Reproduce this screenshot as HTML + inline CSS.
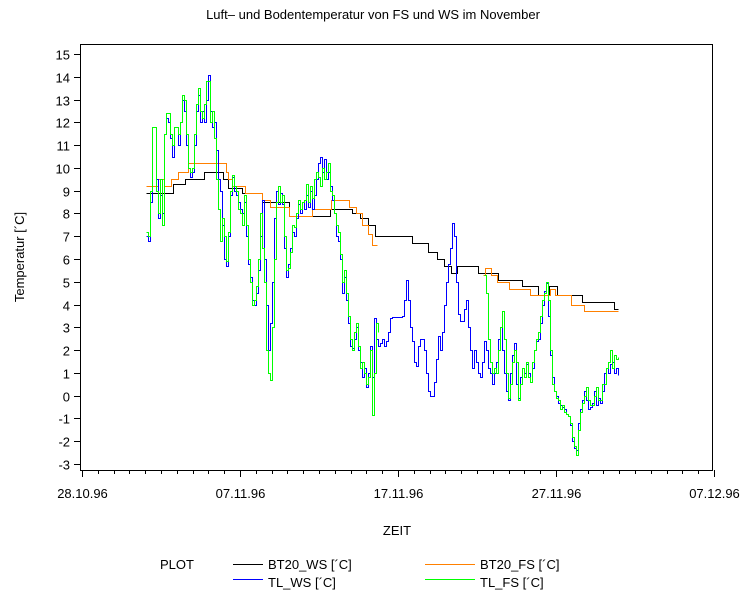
<!DOCTYPE html>
<html><head><meta charset="utf-8">
<style>
html,body{margin:0;padding:0;background:#fff;}
svg{display:block;font-family:"Liberation Sans",sans-serif;}
</style></head>
<body>
<svg id="chart" width="748" height="600" viewBox="0 0 748 600" xmlns="http://www.w3.org/2000/svg">
<text x="373" y="19" font-size="13" text-anchor="middle">Luft– und Bodentemperatur von FS und WS im November</text>
<rect x="80.5" y="44.5" width="632" height="426" fill="none" stroke="#000" stroke-width="1" shape-rendering="crispEdges"/>
<g id="yaxis" shape-rendering="crispEdges"></g>
<g id="xaxis" shape-rendering="crispEdges"></g>
<text transform="translate(24,257) rotate(-90)" font-size="13" text-anchor="middle">Temperatur [´C]</text>
<text x="397" y="535" font-size="13" text-anchor="middle">ZEIT</text>
<g id="series" shape-rendering="crispEdges"></g>
<g font-size="13" shape-rendering="crispEdges">
<text x="160" y="569">PLOT</text>
<line x1="233" y1="564.5" x2="263" y2="564.5" stroke="#000"/>
<text x="268" y="569">BT20_WS [´C]</text>
<line x1="425" y1="564.5" x2="475" y2="564.5" stroke="#ff8000"/>
<text x="480" y="569">BT20_FS [´C]</text>
<line x1="233" y1="579.5" x2="263" y2="579.5" stroke="#0000ff"/>
<text x="268" y="587">TL_WS [´C]</text>
<line x1="425" y1="579.5" x2="475" y2="579.5" stroke="#00ff00"/>
<text x="480" y="587">TL_FS [´C]</text>
</g>
</svg>
<script>
// time in days since 28.10.96 00:00
const xTickLabels = ["28.10.96","07.11.96","17.11.96","27.11.96","07.12.96"];
const xTickDays = [0,10,20,30,40];
const yTicks = [-3,-2,-1,0,1,2,3,4,5,6,7,8,9,10,11,12,13,14,15];
// TL series sampled every 3 h
const tlStep = 0.1266;
const tlWsStart = 4.05;
const tlWs = [7.0,6.8,8.5,11.8,11.8,9.5,7.8,8.8,8.0,11.5,12.2,12.0,11.3,10.5,11.8,11.8,11.0,12.0,13.0,12.5,11.0,10.0,9.6,9.8,11.0,12.5,13.2,12.0,12.5,12.0,13.0,14.1,12.5,11.8,12.0,10.8,9.5,9.0,7.5,6.0,5.7,7.0,8.8,9.6,9.0,8.8,8.5,8.2,8.0,8.5,7.0,5.8,5.2,4.2,4.0,4.5,5.5,7.0,8.6,6.0,4.0,2.0,3.2,5.0,7.8,9.0,8.4,8.9,8.4,6.5,5.2,5.8,6.5,7.2,7.0,7.8,8.4,8.0,8.5,8.2,8.8,8.3,9.0,8.2,8.8,9.5,10.2,10.5,9.8,10.4,9.5,9.8,9.2,8.6,8.0,7.0,6.8,6.0,4.5,5.2,4.2,3.2,2.2,2.1,2.5,3.0,2.0,1.5,0.8,1.2,0.4,1.0,2.2,0.8,3.4,2.5,2.2,2.3,2.5,2.2,2.4,2.8,3.4,3.45,3.45,3.45,3.45,3.45,3.5,4.2,5.1,4.2,3.0,2.4,1.5,1.3,2.2,2.5,2.5,2.0,1.0,0.2,0.0,0.0,0.6,1.6,2.6,2.0,2.8,4.0,5.0,5.8,6.5,7.6,7.0,5.0,3.6,3.3,3.3,3.8,4.2,3.0,2.0,1.2,2.0,1.5,1.0,0.8,1.5,2.4,2.0,1.2,1.0,0.5,1.0,1.5,2.5,3.0,2.0,1.0,0.2,-0.2,1.0,1.8,2.3,0.5,-0.1,0.8,1.2,1.0,1.4,1.0,0.6,1.2,2.0,2.4,2.5,3.2,4.0,4.6,4.95,3.5,1.8,0.8,0.2,0.0,-0.3,-0.4,-0.5,-0.6,-0.8,-0.9,-1.3,-2.0,-2.3,-2.4,-1.2,-0.6,-0.2,0.2,-0.2,-0.6,-0.5,-0.3,0.2,-0.4,-0.1,-0.3,0.2,1.0,1.2,1.0,1.4,1.5,1.0,1.2,0.9];
const tlFsStartA = 4.05;
const tlFsA = [7.2,7.0,9.0,11.8,11.8,9.0,8.0,9.5,7.5,11.5,12.4,12.4,11.5,11.0,11.8,11.8,11.5,12.0,13.2,13.0,11.5,10.0,9.8,10.0,11.5,12.8,13.5,12.5,12.2,12.8,13.8,13.8,12.0,12.5,11.3,9.5,8.2,6.8,7.8,7.0,5.9,7.2,9.0,9.7,9.2,9.0,8.2,8.0,7.5,8.8,7.5,6.0,5.0,4.0,4.2,4.8,6.0,8.0,6.5,5.0,2.0,1.0,0.7,3.0,6.0,8.5,9.2,8.5,8.8,7.0,5.5,5.6,6.3,7.5,7.4,8.0,8.6,8.2,8.5,8.6,9.3,8.5,9.2,8.7,9.5,9.8,9.6,9.2,10.0,9.5,9.8,10.2,9.0,8.8,8.0,7.5,7.2,6.2,5.0,5.5,4.5,3.5,2.5,2.0,2.8,3.2,2.2,1.2,1.5,1.0,0.5,0.8,2.0,-0.85,1.0,3.2,2.8];
const tlFsStartB = 25.44;
const tlFsB = [5.3,4.5,2.5,1.5,1.0,1.2,1.0,2.0,3.0,3.7,2.5,1.0,-0.1,0.5,1.5,2.0,1.5,-0.2,0.5,1.2,0.8,1.5,0.8,0.6,1.5,2.0,2.5,2.8,3.5,4.2,4.5,5.0,4.2,2.0,0.5,0.2,-0.1,-0.2,-0.6,-0.4,-0.7,-0.8,-0.9,-1.2,-1.8,-2.2,-2.6,-1.5,-0.7,-0.3,0.0,0.4,-0.2,-0.4,-0.4,0.0,0.4,-0.2,-0.2,0.5,0.5,1.2,1.5,2.0,1.2,1.8,1.6,1.7];
// BT20 step series: change times (days) and values
const bt20WsDays = [4.05,5.76,6.52,7.72,8.92,9.24,10.13,11.39,13.10,15.70,17.09,17.59,18.10,18.54,20.89,21.90,22.47,22.91,23.35,23.73,25.06,26.33,27.85,28.86,29.56,30.06,31.65,33.67];
const bt20WsVals = [8.9,9.3,9.5,9.8,9.5,9.1,8.9,8.5,7.9,8.2,8.0,7.8,7.5,7.0,6.7,6.3,6.0,5.7,5.4,5.7,5.4,5.1,4.8,4.4,4.8,4.4,4.1,3.8];
const bt20WsEnd = 33.92;
const bt20FsDaysA = [4.05,4.81,5.19,5.63,6.08,6.71,9.11,9.24,9.49,10.32,11.39,11.90,13.10,14.56,15.76,16.90,17.34,17.72,18.10,18.35];
const bt20FsValsA = [9.2,9.5,9.2,9.5,9.8,10.2,9.8,9.5,9.2,8.9,8.6,8.3,7.9,8.2,8.6,8.3,8.0,7.5,7.1,6.6];
const bt20FsEndA = 18.67;
const bt20FsDaysB = [25.38,25.51,25.89,26.27,27.03,28.35,29.62,29.94,30.95,31.77];
const bt20FsValsB = [5.3,5.6,5.3,5.0,4.7,4.4,4.7,4.4,4.0,3.7];
const bt20FsEndB = 33.92;

const NS="http://www.w3.org/2000/svg";
const xs = d => Math.round(82 + d*15.8) + 0.5;
const ys = v => Math.round(54 + (15 - v)*22.78) + 0.5;
function mk(tag, attrs, parent){const e=document.createElementNS(NS,tag);for(const k in attrs)e.setAttribute(k,attrs[k]);parent.appendChild(e);return e;}
const ya=document.getElementById('yaxis'), xa=document.getElementById('xaxis'), sg=document.getElementById('series');
yTicks.forEach(v=>{
  const t=mk('line',{x1:74,x2:80,y1:ys(v),y2:ys(v),stroke:'#000'},ya);
  
  
  const l=mk('text',{x:70,y:ys(v)+5,'font-size':13,'text-anchor':'end'},ya);
  l.textContent=String(v);
  
  
});
for(let d=0; d<=40; d++){
  const major = xTickDays.indexOf(d)>=0;
  const t=mk('line',{x1:xs(d),x2:xs(d),y1:470,y2:major?477:474,stroke:'#000'},xa);
  
  
}
xTickDays.forEach((d,i)=>{
  const l=mk('text',{x:xs(d),y:498,'font-size':13,'text-anchor':'middle'},xa);
  l.textContent=xTickLabels[i];
  
  
});
function stepPath(start, vals){
  let p='';
  vals.forEach((v,i)=>{const x=xs(start+i*tlStep), y=ys(v);
    if(i===0) p+='M'+x+','+y; else p+='H'+x+'V'+y;});
  return p;
}
function stepPath2(days, vals, end){
  let p='';
  days.forEach((d,i)=>{const x=xs(d), y=ys(vals[i]);
    if(i===0) p+='M'+x+','+y; else p+='H'+x+'V'+y;});
  return p+'H'+xs(end);
}
function addPath(d, color, name){
  const e=mk('path',{d:d,fill:'none',stroke:color,'stroke-width':1},sg);
  
  
}
addPath(stepPath2(bt20WsDays,bt20WsVals,bt20WsEnd),'#000','series-bt20-ws');
addPath(stepPath2(bt20FsDaysA,bt20FsValsA,bt20FsEndA),'#ff8000','series-bt20-fs-a');
addPath(stepPath2(bt20FsDaysB,bt20FsValsB,bt20FsEndB),'#ff8000','series-bt20-fs-b');
addPath(stepPath(tlWsStart,tlWs),'#0000ff','series-tl-ws');
addPath(stepPath(tlFsStartA,tlFsA),'#00ff00','series-tl-fs-a');
addPath(stepPath(tlFsStartB,tlFsB),'#00ff00','series-tl-fs-b');
</script>
</body></html>
